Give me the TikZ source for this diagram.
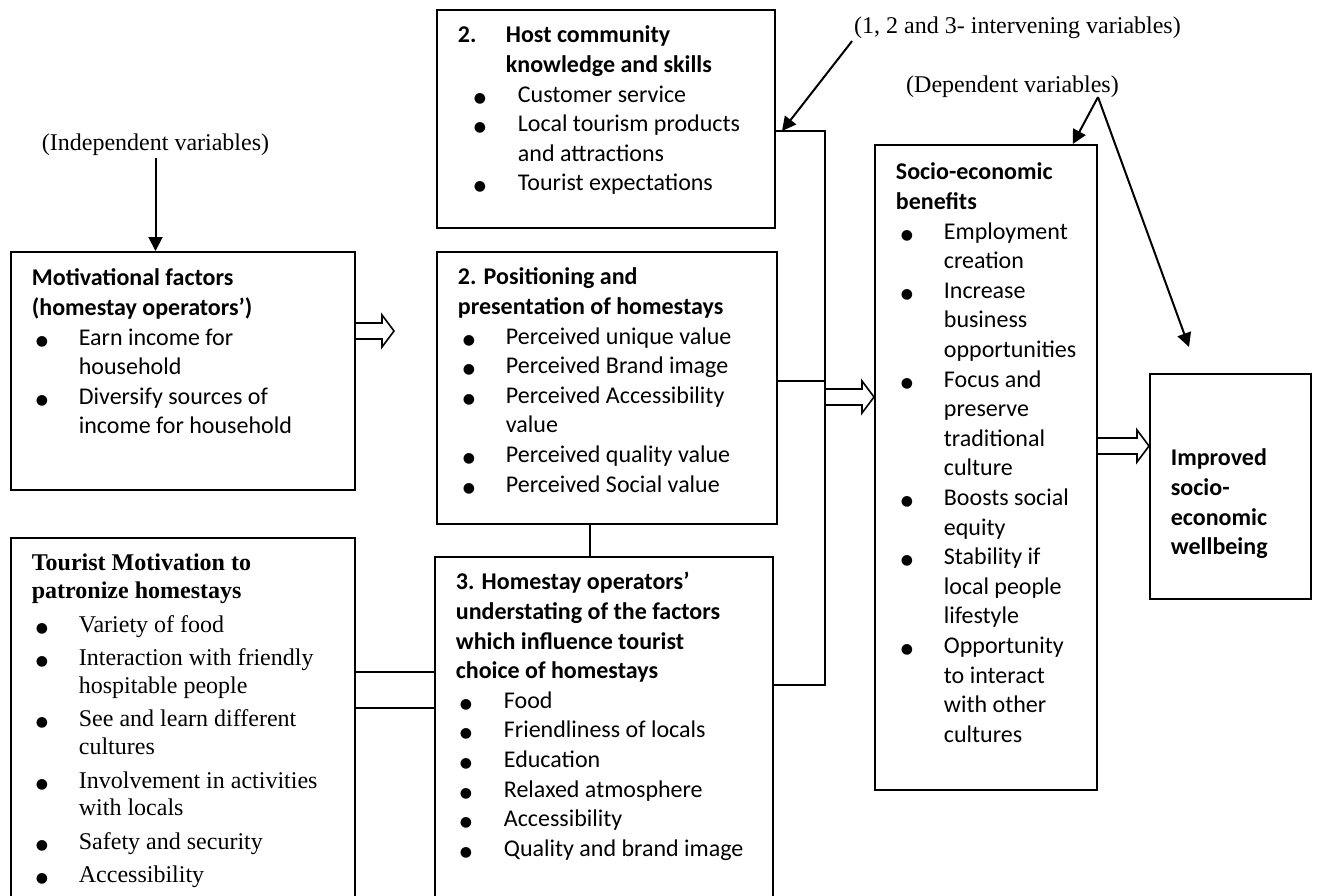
\documentclass[tikz,border=0pt]{standalone}
\usepackage{fontspec}
\setmainfont{Carlito}
\newfontfamily\timesfont{Liberation Serif}
\newfontfamily\dotfont{DejaVu Sans}
\usetikzlibrary{arrows.meta,calc}
\newlength\itemhang \setlength\itemhang{48pt}
\newlength\dotshift \setlength\dotshift{5pt}
\newcommand{\bul}{{\dotfont\fontsize{14}{0}\selectfont ●}}
\newcommand{\itm}{\par\hangindent=\itemhang\hangafter=1\noindent\makebox[\itemhang][l]{\hspace{\dotshift}\bul}}
\newcommand{\panel}[4][33pt]{\parbox[c][#3][t]{#2}{\rightskip=-30pt plus 1fil\rule{0pt}{#1}#4}}
\newcommand{\fatarrow}[2]{\draw[fat] let \p1=(#1), \p2=(#2) in (\x1,\y1+8pt) -- (\x2-12pt,\y1+8pt) -- (\x2-12pt,\y1+16pt) -- (\x2,\y1) -- (\x2-12pt,\y1-16pt) -- (\x2-12pt,\y1-8pt) -- (\x1,\y1-8pt);}
\tikzset{varbox/.style={draw,line width=1.8pt,anchor=north west,inner xsep=21pt,inner ysep=0pt,font=\fontsize{24}{29.6}\selectfont}, varnote/.style={font=\timesfont\fontsize{24}{27.6}\selectfont,inner sep=2pt}, link/.style={line width=1.6pt}, pointer/.style={line width=2pt,-{Triangle[length=14pt,width=14pt]}}, fat/.style={line width=1.6pt,line join=miter}}

\begin{document}
\begin{tikzpicture}[x=1pt,y=-1pt]
\useasboundingbox (0,0) rectangle (1319,896);
\node[varnote] (indep) at (155.5,145) {(Independent variables)};
\node[varnote] (interv) at (1017.5,28) {(1, 2 and 3- intervening variables)};
\node[varnote] (dep) at (1012.5,87) {(Dependent variables)};
% independent variables
\node[varbox] (motiv) at (10,251) {\panel[34pt]{302pt}{238pt}{{\bfseries Motivational factors\\(homestay operators’)}
 \setlength\itemhang{47pt}\setlength\dotshift{4pt}
 \itm Earn income for\\household
 \itm Diversify sources of\\income for household}};
\node[varbox,font=\timesfont\fontsize{24}{27.6}\selectfont] (tourist) at (10,537) {\panel{302pt}{380pt}{{\bfseries Tourist Motivation to\\patronize homestays}
 \setlength\parskip{6pt}\setlength\itemhang{47pt}\setlength\dotshift{4pt}
 \itm Variety of food
 \itm Interaction with friendly\\hospitable people
 \itm See and learn different\\cultures
 \itm Involvement in activities\\with locals
 \itm Safety and security
 \itm Accessibility}};
% intervening variables
\node[varbox] (host) at (436,9) {\panel{296pt}{218pt}{\hangindent=48pt\hangafter=1\makebox[48pt][l]{\bfseries 2.}{\bfseries Host community\\knowledge and skills}
 \setlength\itemhang{60pt}\setlength\dotshift{16pt}
 \itm Customer service
 \itm Local tourism products\\and attractions
 \itm Tourist expectations}};
\node[varbox] (pos) at (436,251) {\panel{298pt}{272pt}{{\bfseries 2. Positioning and\\presentation of homestays}
 \itm Perceived unique value
 \itm Perceived Brand image
 \itm Perceived Accessibility\\value
 \itm Perceived quality value
 \itm Perceived Social value}};
\node[varbox] (underst) at (434,556) {\panel{296pt}{360pt}{{\bfseries 3. Homestay operators’\\understating of the factors\\which influence tourist\\choice of homestays}
 \setlength\dotshift{4pt}
 \itm Food
 \itm Friendliness of locals
 \itm Education
 \itm Relaxed atmosphere
 \itm Accessibility
 \itm Quality and brand image}};
% dependent variables
\node[varbox] (socio) at (874,144) {\panel[35pt]{180pt}{645pt}{{\bfseries Socio-economic\\benefits}
 \itm Employment\\creation
 \itm Increase\\business\\opportunities
 \itm Focus and\\preserve\\traditional\\culture
 \itm Boosts social\\equity
 \itm Stability if\\local people\\lifestyle
 \itm Opportunity\\to interact\\with other\\cultures}};
\node[varbox] (improved) at (1149,373) {\panel[92pt]{119pt}{225pt}{\bfseries Improved\\socio-\\economic\\wellbeing}};
% connectors
\coordinate (bustop) at (825,131);
\coordinate (busmid) at (825,381);
\coordinate (busbot) at (825,685);
\coordinate (busout) at (825,397);
\draw[link] (host.east |- bustop) -- (bustop) -- (busbot) -- (underst.east |- busbot);
\draw[link] (pos.east |- busmid) -- (busmid);
\draw[link] (pos.south -| 590,0) -- (underst.north -| 590,0);
\draw[link] (tourist.east |- 0,672) -- (underst.west |- 0,672);
\draw[link] (tourist.east |- 0,708) -- (underst.west |- 0,708);
\coordinate (motivtip) at (394,331);
\fatarrow{motiv.east |- motivtip}{motivtip}
\fatarrow{busout}{socio.west |- busout}
\fatarrow{socio.east |- 0,446}{improved.west |- 0,446}
% variable pointers
\coordinate (hostjoin) at (782,131);
\coordinate (depfoot) at ([xshift=-23pt,yshift=3pt]dep.south east);
\coordinate (wellbeingtip) at (1189,347);
\draw[pointer] (indep.south) -- (indep.south |- motiv.north);
\draw[pointer] (interv.south west) -- (hostjoin);
\draw[pointer] (depfoot) -- ([xshift=-25pt]socio.north east);
\draw[pointer] (depfoot) -- (wellbeingtip);
\end{tikzpicture}
\end{document}
